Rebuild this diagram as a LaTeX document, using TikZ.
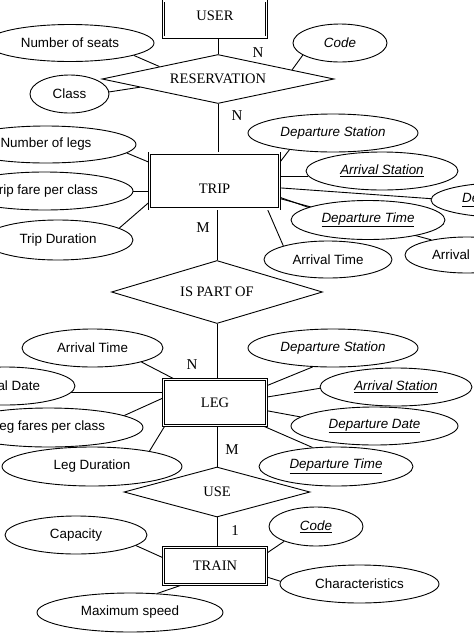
\documentclass[tikz,border=0pt]{standalone}
\usepackage{fontspec}
\setmainfont{Liberation Serif}
\newfontfamily\attrfont{Liberation Sans}
\usetikzlibrary{shapes.geometric,backgrounds}
\tikzset{
  every node/.style={text=black},
  sz/.style 2 args={minimum width=#1pt,minimum height=#2pt},
  entity/.style={draw,double,double distance=1.8pt,line width=0.75pt,fill=white,inner sep=0pt,font=\fontsize{14.5}{17}\selectfont},
  relation/.style={diamond,draw,line width=0.9pt,fill=white,inner sep=0pt,font=\fontsize{14.5}{17}\selectfont},
  attr/.style={ellipse,draw,line width=0.9pt,fill=white,inner sep=0pt,font=\attrfont\fontsize{13.4}{16}\selectfont},
  card/.style={inner sep=0pt,font=\fontsize{15}{17}\selectfont},
  link/.style={line width=0.9pt,draw=black}
}

\begin{document}
\begin{tikzpicture}[x=1pt,y=1pt]
  \useasboundingbox (0,0) rectangle (474,-633);
  \clip (0,0) rectangle (474,-633);

  % user and reservation
  \node[entity,sz={103}{36.5}] (user) at (215,-19) {\raisebox{-1.8pt}[0pt][0pt]{USER}};
  \node[relation,sz={232}{49},aspect=4.7] (res) at (218,-79) {RESERVATION};
  \node[attr,sz={168}{37}] (nseats) at (70,-43) {Number of seats};
  \node[attr,sz={79}{38}] (rclass) at (69.5,-94) {Class};
  \node[attr,sz={94}{38}] (rcode) at (340,-43) {\itshape Code};

  % trip
  \node[entity,sz={130}{55.5}] (trip) at (214.5,-181) {\raisebox{-12.5pt}[0pt][0pt]{TRIP}};
  \node[attr,sz={180}{37}] (tlegs) at (46,-144.5) {Number of legs};
  \node[attr,sz={177}{38}] (tfare) at (44.5,-191) {Trip fare per class};
  \node[attr,sz={150}{40}] (tdur) at (58,-240) {Trip Duration};
  \node[attr,sz={170}{38}] (tdepst) at (333,-133) {\itshape Departure Station};
  \node[attr,sz={152}{38}] (tarrst) at (382,-171) {\underline{\itshape Arrival Station}};
  \node[attr,sz={154}{35}] (tdepdate) at (508,-200) {\underline{\itshape Departure Date}};
  \node[attr,sz={154}{39}] (tdeptime) at (368,-220) {\underline{\itshape Departure Time}};
  \node[attr,sz={124}{36}] (tarrdate) at (467,-255) {Arrival Date};
  \node[attr,sz={128}{37}] (tarrtime) at (328,-259.5) {Arrival Time};

  % leg
  \node[relation,sz={211}{63},aspect=3.35] (ispart) at (217,-292) {IS PART OF};
  \node[entity,sz={103}{46}] (leg) at (215,-402.5) {LEG};
  \node[attr,sz={141}{38}] (larrtime) at (92.5,-348) {Arrival Time};
  \node[attr,sz={140}{38}] (larrdate) at (5,-386) {Arrival Date};
  \node[attr,sz={189}{39}] (lfare) at (48.5,-427.5) {Leg fares per class};
  \node[attr,sz={180}{39}] (ldur) at (92,-466.5) {Leg Duration};
  \node[attr,sz={170}{38}] (ldepst) at (333,-348) {\itshape Departure Station};
  \node[attr,sz={152}{38}] (larrst) at (396,-387) {\underline{\itshape Arrival Station}};
  \node[attr,sz={167}{38}] (ldepdate) at (374.5,-426) {\underline{\itshape Departure Date}};
  \node[attr,sz={154}{39}] (ldeptime) at (336,-466.5) {\underline{\itshape Departure Time}};

  % train
  \node[relation,sz={186}{50},aspect=3.7] (use) at (217,-492) {USE};
  \node[entity,sz={103}{37}] (train) at (215,-566) {TRAIN};
  \node[attr,sz={94}{39}] (trcode) at (316,-526.5) {\underline{\itshape Code}};
  \node[attr,sz={142}{38}] (trcap) at (76,-535) {Capacity};
  \node[attr,sz={159}{38}] (trchar) at (359.5,-584) {Characteristics};
  \node[attr,sz={186}{39}] (trspeed) at (130,-612.5) {Maximum speed};

  % cardinalities
  \node[card] (cresuser) at (258,-53) {N};
  \node[card] (crestrip) at (237,-116) {N};
  \node[card] (cparttrip) at (203,-228) {M};
  \node[card] (cpartleg) at (192,-365) {N};
  \node[card] (cuseleg) at (232,-450) {M};
  \node[card] (cusetrain) at (235,-531) {1};

  \begin{scope}[on background layer]
    \draw[link] (res.north) -- (res.north |- user.south);
    \draw[link] (nseats.-11) -- (res.168);
    \draw[link] (rclass.3) -- (res.186);
    \draw[link] (rcode.198) -- (res.7);
    \draw[link] (res.south) -- (res.south |- trip.north);
    \draw[link] (tlegs.-6) -- (trip.164);
    \draw[link] (tfare.east) -- (tfare.east -| trip.west);
    \draw[link] (tdur.11) -- (trip.198);
    \draw[link] (tdepst.201) -- (trip.16);
    \draw[link] (tarrst.184) -- (tarrst.184 -| trip.east);
    \draw[link] (trip.-6) -- (tdepdate.179);
    \draw[link] (trip.-14) -- (tdeptime.168);
    \draw[link] (trip.-15.5) -- (tarrdate.157);
    \draw[link] (trip.-28) -- (tarrtime.163);
    \draw[link] (ispart.north) -- (ispart.north |- trip.south);
    \draw[link] (ispart.south) -- (ispart.south |- leg.north);
    \draw[link] (larrtime.-16) -- (leg.150);
    \draw[link] (larrdate.-6) -- (larrdate.-6 -| leg.west);
    \draw[link] (lfare.9) -- (leg.175);
    \draw[link] (ldur.15) -- (leg.205);
    \draw[link] (ldepst.223) -- (leg.18);
    \draw[link] (leg.6) -- (larrst.181);
    \draw[link] (leg.-9) -- (ldepdate.173);
    \draw[link] (leg.-26) -- (ldeptime.141);
    \draw[link] (use.north) -- (use.north |- leg.south);
    \draw[link] (use.south) -- (use.south |- train.north);
    \draw[link] (trcode.205) -- (train.14);
    \draw[link] (trcap.-10) -- (train.171);
    \draw[link] (train.-12) -- (trchar.178);
    \draw[link] (train.210) -- (trspeed.35);
  \end{scope}
\end{tikzpicture}
\end{document}
